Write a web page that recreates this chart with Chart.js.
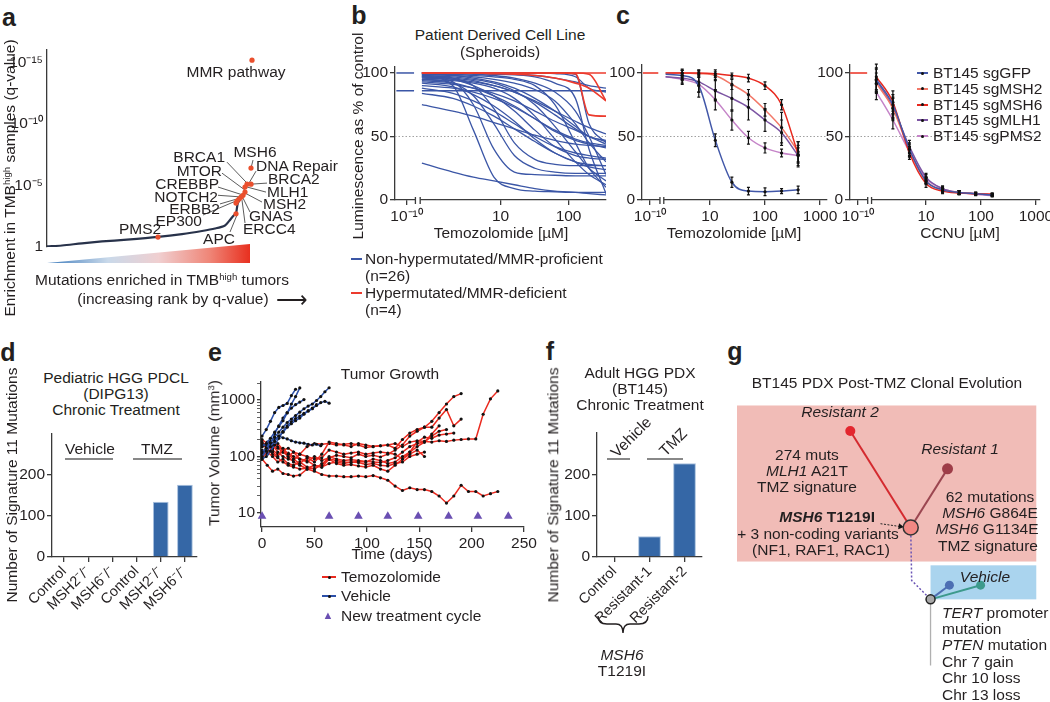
<!DOCTYPE html>
<html>
<head>
<meta charset="utf-8">
<script src="https://cdn.jsdelivr.net/npm/chart.js@4.4.1/dist/chart.umd.min.js"></script>
<style>
  body { margin: 0; background: #fff; }
  #fig { position: relative; width: 1050px; height: 702px; overflow: hidden; font-family: "Liberation Sans", Arial, sans-serif; color: #231f20; }
  #fig canvas { position: absolute; }
  .t { position: absolute; white-space: nowrap; font-size: 15.5px; line-height: 1; }
  .c { transform: translate(-50%, -50%); }
  .l { transform: translate(0, -50%); }
  .r { transform: translate(-100%, -50%); }
  .v { transform: translate(-50%, -50%) rotate(-90deg); }
  .d45 { transform: translate(-50%, -50%) rotate(-45deg); }
  .p { font-weight: bold; font-size: 25px; }
  sup { font-size: 0.62em; vertical-align: 0.5em; line-height: 0; }
  .hl { position: absolute; height: 0; border-top: 2px solid #888; }
</style>
</head>
<body>
<div id="fig"></div>
<script>
// ---- panel a : ranked enrichment
const aRank = [0, 15, 35, 55, 80, 111, 135, 155, 168, 178, 182, 186, 189, 190, 191, 194];
const aScore = [0.05, 0.12, 0.3, 0.45, 0.6, 0.82, 1.05, 1.3, 1.5, 1.75, 2.1, 2.5, 2.75, 3.2, 3.6, 4.0];
const aHitRank = [205, 204, 200, 204, 198, 198, 196, 194, 192, 190, 189, 189, 111];
const aHitScore = [15.17, 6.41, 5.1, 5.1, 4.87, 4.46, 4.2, 4.05, 3.9, 3.73, 3.57, 2.7, 0.81];
const aTickVals = [0, 5, 10, 15];
const aTickText = ['1', '10⁻⁵', '10⁻¹⁰', '10⁻¹⁵'];
// leader lines: [rank from, score from, rank to, score to]
const aLeaders = [
  [180, 6.89, 200, 5.19], [175, 6.0, 198, 4.62], [171, 4.87, 196, 4.22], [171, 4.2, 195, 4.06],
  [173, 3.5, 193, 3.97], [156, 2.6, 191, 3.81], [206, 7.06, 204, 6.41], [209, 6.16, 202, 5.19],
  [220, 5.19, 205, 5.11], [219, 4.46, 200, 4.87], [215, 3.65, 198, 4.38], [203, 2.84, 196, 3.97],
  [198, 1.95, 195, 3.81], [183, 1.22, 190, 2.6]
];

// ---- panel b : spheroid dose response (uM)
const bDoses = [0.7, 2, 4, 8, 16, 32, 63, 126, 200, 355];
const bBlue = [
  [29, 22, 18, 15, 12, 9, 7, 6, 5, 4],
  [98, 90, 55, 18, 9, 7, 6.5, 6, 6, 6],
  [97, 93, 75, 40, 22, 20, 19.5, 19, 19, 19],
  [95, 92, 82, 60, 35, 25, 22, 21, 21, 21],
  [75, 70, 66, 61, 56, 51, 47, 44, 43, 42],
  [88, 84, 78, 70, 60, 50, 42, 37, 35, 33],
  [90, 88, 85, 80, 73, 64, 55, 48, 45, 43],
  [93, 91, 88, 84, 78, 70, 62, 55, 50, 46],
  [96, 95, 93, 90, 85, 77, 67, 56, 50, 44],
  [99, 98, 97, 95, 92, 87, 78, 60, 45, 30],
  [99, 99, 98, 97, 95, 90, 75, 45, 25, 10],
  [100, 99.5, 99, 98, 96, 92, 85, 70, 50, 20],
  [100, 100, 99.5, 99, 98.5, 97, 92, 80, 40, 5],
  [86, 86, 86, 86, 86, 86, 86, 86, 86, 86],
  [100, 100, 100, 100, 100, 100, 100, 99, 60, 45],
  [100, 100, 100, 100, 100, 100, 99.5, 97, 88, 85],
  [97, 95, 90, 82, 70, 55, 42, 35, 33, 32],
  [92, 89, 83, 74, 62, 48, 37, 30, 28, 27],
  [84, 80, 74, 66, 56, 46, 37, 30, 26, 24],
  [98, 97, 95, 92, 86, 75, 58, 38, 25, 15],
  [95, 94, 92, 88, 80, 66, 48, 30, 20, 12],
  [99, 98, 96, 93, 88, 80, 70, 58, 50, 47],
  [97, 96, 94, 90, 85, 78, 70, 62, 57, 52],
  [94, 92, 88, 82, 74, 64, 54, 47, 44, 41],
  [98, 96, 90, 72, 45, 32, 28, 27, 27, 27],
  [100, 100, 100, 99.5, 99, 98, 96, 93, 90, 88]
];
const bRed = [
  [100, 100, 100, 100, 100, 100, 100, 100, 100, 100],
  [100, 100, 100, 100, 100, 100, 100, 99.5, 67, 66],
  [100, 100, 100, 99.5, 99, 98, 96, 92, 88, 78],
  [100, 100, 100, 100, 100, 100, 100, 100, 99, 78]
];
const bCtrlBlue = [100, 86];

// ---- panel c : BT145 knockouts
const cNames = ['BT145 sgGFP', 'BT145 sgMSH2', 'BT145 sgMSH6', 'BT145 sgMLH1', 'BT145 sgPMS2'];
const cColors = ['#4157a8', '#f27868', '#e8281e', '#7c55a3', '#c584c8'];
const cTmzDoses = [1.56, 3.125, 6.25, 12.5, 25, 50, 100, 200, 400];
const cTmzMean = [
  [99, 98, 90, 47, 14, 7, 6.5, 7, 8],
  [100, 100, 99.5, 98, 91, 83, 71, 57, 38],
  [100, 100, 100, 99.5, 98, 96, 90, 75, 36],
  [97, 96, 93, 86, 80, 73, 63, 53, 35],
  [97, 95, 91, 79, 63, 49, 41, 37, 35]
];
const cTmzErr = [
  [null, 4, 9, 5, 4, 3, 3, 2, 3],
  [null, 3, 3, 3, 4, 4, 5, 12, 8],
  [null, 2, 2, 3, 2, 3, 3, 4, 10],
  [null, 4, 8, 8, 10, 10, 9, 10, 8],
  [null, 4, 6, 8, 8, 5, 4, 3, 6]
];
const cCcnuDoses = [1.25, 2.5, 5, 10, 20, 40, 80, 160];
const cCcnuMean = [
  [95, 75, 40, 15, 8, 6, 5, 4],
  [92, 72, 39, 15, 8, 6, 5, 4.5],
  [97, 77, 37, 13, 7, 5.5, 5, 4.5],
  [94, 73, 42, 18, 9, 6, 5, 4],
  [85, 63, 38, 17, 9, 6, 4.5, 3.5]
];
const cCcnuErr = [
  [9, 8, 5, 3, 2, 1.5, 1, 1],
  [8, 8, 5, 2, 2, 1.5, 1, 1],
  [10, 9, 5, 3, 2, 1.5, 1, 1],
  [9, 8, 5, 3, 2, 1.5, 1, 1],
  [6, 7, 4, 3, 2, 1.5, 1, 1]
];

// ---- panel d : DIPG13 signature 11
const dLabels = ['Control', 'MSH2⁻/⁻', 'MSH6⁻/⁻', 'Control', 'MSH2⁻/⁻', 'MSH6⁻/⁻'];
const dCounts = [0, 0, 0, 0, 135, 176];

// ---- panel e : tumor growth (days, mm3)
const vehDays = [0, 4, 8, 12, 16, 20, 24, 28, 32, 36, 40, 44, 48, 52, 56, 60, 64];
const vehSeries = [
  [230, 300, 420, 600, 740, 800, 870, 1200, 1550, null, null, null, null, null, null, null, null],
  [150, 170, 210, 270, 340, 430, 590, 850, 1150, 1640, null, null, null, null, null, null, null],
  [120, 140, 175, 220, 270, 330, 400, 460, 530, 610, 700, 780, 850, 980, 1150, 1400, 1650],
  [100, 125, 150, 185, 230, 270, 330, 380, 430, 480, 560, 640, 720, 800, 900, 950, 880],
  [170, 150, 185, 200, 230, 215, 205, 190, 180, 175, 172, 165, 160, 165, 155, null, null],
  [110, 135, 165, 250, 350, 480, 600, 720, 830, 920, 1020, null, null, null, null, null, null],
  [90, 100, 125, 160, 210, 280, 350, 410, 470, 520, 580, 640, 700, 830, null, null, null]
];
const tmzDays = [0, 5, 10, 15, 20, 25, 30, 36, 43, 50, 57, 64, 71, 78, 85, 92, 99, 106, 113, 120, 127, 134, 141, 148, 155, 162, 169, 176, 183, 190, 197, 204, 211, 218, 225];
const tmzSeries = [
  [150, 180, 120, 100, 140, 110, 90, 75, 95, 80, 110, 180, 170, 160, 150, 170, 160, 150, 155, 160, 140, 200, 260, 300, 330, 420, 600, 850, 1150, 1300, null, null, null, null, null],
  [110, 130, 160, 120, 100, 90, 85, 110, 150, 170, 165, 170, 160, 165, 170, 160, 145, 150, 155, 160, 170, 150, 180, 190, 185, 180, 190, 185, 195, 200, 205, 205, 560, 1050, 1450],
  [130, 110, 140, 170, 130, 100, 120, 90, 80, 100, 85, 95, 105, 100, 95, 110, 100, 105, 98, 110, 130, 160, 230, 280, 330, 330, 480, 680, 350, 460, null, null, null, null, null],
  [95, 120, 100, 80, 90, 75, 70, 80, 65, 60, 75, 90, 85, 80, 78, 82, 80, 90, 85, 75, 80, 100, 120, 180, 220, 210, 240, 250, 260, null, null, null, null, null, null],
  [180, 150, 130, 110, 120, 100, 80, 70, 60, 62, 70, 100, 90, 85, 88, 85, 82, 80, 78, 85, 95, 120, 150, 170, 180, 230, 280, 300, null, null, null, null, null, null, null],
  [200, 170, 150, 140, 120, 115, 100, 90, 85, 70, 65, 75, 80, 75, 80, 78, 72, 75, 70, 68, 75, 80, 100, 110, 120, null, null, null, null, null, null, null, null, null, null],
  [90, 70, 55, 60, 50, 48, 45, 47, 60, 55, 48, 45, 45, 44, 44, 45, 44, 46, 42, 38, 30, 25, 28, 26, 26, 24, 20, 15, 20, 31, 24, 24, 20, 22, 24],
  [160, 140, 170, 150, 130, 140, 120, 110, 100, 90, 95, 130, 120, 110, 115, 120, 110, 115, 120, 115, 110, 90, 120, 150, 180, 250, 350, null, null, null, null, null, null, null, null],
  [120, 140, 110, 95, 80, 70, 65, 60, 62, 70, 65, 90, 75, 70, 72, 68, 65, 70, 60, 55, 70, 90, 110, 130, 100, null, null, null, null, null, null, null, null, null, null]
];
const cycleDays = [0, 64, 92, 120, 149, 178, 206, 235];
const cycleLevel = 8.8;

// ---- panel f : BT145 PDX signature 11
const fLabels = ['Control', 'Resistant-1', 'Resistant-2'];
const fCounts = [0, 50, 227];

// ---- panel g : clonal tree (layout units)
const gNodeX = [184, 120, 223, 205, 225, 258];
const gNodeY = [157, 55, 95, 233, 218, 218];
const gNodeColor = ['#f28883', '#e3262e', '#9e3d48', '#a9a9a9', '#4d6fb3', '#3d9a8c'];
const gNodeSize = [7.5, 5, 5.5, 4.5, 4.5, 4.5];

const fig = document.getElementById('fig');
Chart.defaults.font.family = '"Liberation Sans", Arial, sans-serif';
Chart.defaults.color = '#231f20';
const TICK_SIZE = 15.5;

function txt(x, y, html, cls, style) {
  const d = document.createElement('div');
  d.className = 't ' + (cls || 'c');
  d.style.left = x + 'px';
  d.style.top = y + 'px';
  if (style) d.style.cssText += style;
  d.innerHTML = html;
  fig.appendChild(d);
  return d;
}
function hline(x0, x1, y, color) {
  const d = document.createElement('div');
  d.className = 'hl';
  d.style.left = x0 + 'px'; d.style.top = y + 'px'; d.style.width = (x1 - x0) + 'px';
  if (color) d.style.borderTopColor = color;
  fig.appendChild(d);
}
function legLine(x, y, w, color, dot) {
  const d = document.createElement('div');
  d.style.cssText = `position:absolute;left:${x}px;top:${y - 1}px;width:${w}px;height:2px;background:${color}`;
  fig.appendChild(d);
  if (dot) {
    const p = document.createElement('div');
    p.style.cssText = `position:absolute;left:${x + w / 2 - 1.5}px;top:${y - 1.5}px;width:3px;height:3px;border-radius:2px;background:#111`;
    fig.appendChild(p);
  }
}

// error bars drawn through the chart scales
const errorBars = {
  id: 'errorBars',
  afterDatasetsDraw(chart) {
    const ctx = chart.ctx, xs = chart.scales.x, ys = chart.scales.y;
    chart.data.datasets.forEach(ds => {
      if (!ds.errs) return;
      ctx.save();
      ctx.strokeStyle = '#111';
      ctx.lineWidth = 1.2;
      ds.data.forEach((p, j) => {
        const e = ds.errs[j];
        if (e == null) return;
        const px = xs.getPixelForValue(p.x);
        const y1 = ys.getPixelForValue(p.y - e), y2 = ys.getPixelForValue(p.y + e);
        ctx.beginPath();
        ctx.moveTo(px, y1); ctx.lineTo(px, y2);
        ctx.moveTo(px - 1.5, y1); ctx.lineTo(px + 1.5, y1);
        ctx.moveTo(px - 1.5, y2); ctx.lineTo(px + 1.5, y2);
        ctx.stroke();
      });
      ctx.restore();
    });
  }
};
// broken x axis
const axisBreak = {
  id: 'axisBreak',
  afterDraw(chart, args, opts) {
    if (opts.from == null) return;
    const xs = chart.scales.x, ctx = chart.ctx;
    const a = xs.getPixelForValue(opts.from), b = xs.getPixelForValue(opts.to);
    const y = chart.chartArea.bottom;
    ctx.save();
    ctx.fillStyle = '#fff';
    ctx.fillRect(a, y - 2, b - a, 5);
    ctx.strokeStyle = '#3a3a3a';
    ctx.lineWidth = 1.3;
    ctx.beginPath();
    ctx.moveTo(a, y - 3); ctx.lineTo(a, y + 4);
    ctx.moveTo(b, y - 3); ctx.lineTo(b, y + 4);
    ctx.stroke();
    ctx.restore();
  }
};
// shaded boxes behind the tree
const boxes = {
  id: 'boxes',
  beforeDatasetsDraw(chart, args, opts) {
    if (!opts.list) return;
    const xs = chart.scales.x, ys = chart.scales.y, ctx = chart.ctx;
    opts.list.forEach(b => {
      const x0 = xs.getPixelForValue(b[0]), y0 = ys.getPixelForValue(b[1]);
      const x1 = xs.getPixelForValue(b[2]), y1 = ys.getPixelForValue(b[3]);
      ctx.fillStyle = b[4];
      ctx.fillRect(Math.min(x0, x1), Math.min(y0, y1), Math.abs(x1 - x0), Math.abs(y1 - y0));
    });
  }
};
Chart.register(errorBars, axisBreak, boxes);

function ax(type, min, max, tickVals, label, extra) {
  const s = {
    type, min, max,
    border: { color: '#3a3a3a', width: 1.3 },
    grid: { drawOnChartArea: false, drawTicks: true, tickLength: 5, color: '#3a3a3a', lineWidth: 1.3 },
    ticks: { padding: 2, color: '#231f20', font: { size: TICK_SIZE }, autoSkip: false, maxRotation: 0, minRotation: 0 }
  };
  if (tickVals) {
    s.afterBuildTicks = sc => { sc.ticks = tickVals.map(v => ({ value: v })); };
    s.ticks.callback = v => (label ? label(v) : String(v));
  }
  return Object.assign(s, extra || {});
}

// canvas box L,T,W,H and plot area [x0,y0,x1,y1] in page pixels
function makeChart(L, T, W, H, area, cfg) {
  const cv = document.createElement('canvas');
  cv.width = W; cv.height = H;
  cv.style.left = L + 'px'; cv.style.top = T + 'px';
  fig.appendChild(cv);
  const [x0, y0, x1, y1] = area;
  const o = cfg.options;
  o.responsive = false;
  o.animation = false;
  o.plugins = Object.assign({ legend: { display: false }, tooltip: { enabled: false } }, o.plugins || {});
  const xs = o.scales.x, ys = o.scales.y;
  o.layout = { padding: { top: y0 - T, right: L + W - x1, left: ys.display === false ? x0 - L : 0, bottom: xs.display === false ? T + H - y1 : 0 } };
  if (ys.display !== false) ys.afterFit = s => { s.width = x0 - L; s.paddingTop = s.paddingBottom = s.paddingLeft = s.paddingRight = 0; };
  if (xs.display !== false) xs.afterFit = s => { s.height = T + H - y1; s.paddingTop = s.paddingBottom = s.paddingLeft = s.paddingRight = 0; };
  return new Chart(cv, cfg);
}
function seg(x0, y0, x1, y1, color, width, dash) {
  return { data: [{ x: x0, y: y0 }, { x: x1, y: y1 }], showLine: true, borderColor: color, borderWidth: width || 1, borderDash: dash || [], pointRadius: 0 };
}
const lg = Math.log10;

// ================= panel a =================
{
  const ds = [];
  ds.push({ data: aHitRank.map((r, i) => ({ x: r, y: aHitScore[i] })), pointRadius: 2.6, pointBackgroundColor: '#ea4f2d', pointBorderWidth: 0, showLine: false, order: 0 });
  ds.push({ data: aRank.map((r, i) => ({ x: r, y: aScore[i] })), showLine: true, borderColor: '#28324a', borderWidth: 2.2, pointRadius: 0, tension: 0.3, order: 2 });
  aLeaders.forEach(l => { const s = seg(l[0], l[1], l[2], l[3], '#4a4a4a', 0.9); s.order = 1; ds.push(s); });
  const ya = ax('linear', 0, 16, aTickVals, v => aTickText[aTickVals.indexOf(v)], {});
  ya.grid.drawTicks = false;
  ya.ticks.padding = 4;
  makeChart(0, 40, 330, 215, [47, 50, 320, 247], {
    type: 'scatter',
    data: { datasets: ds },
    options: {
      scales: {
        x: { type: 'linear', min: 0, max: 273, display: false },
        y: ya
      }
    }
  });
}

// ================= panel b =================
{
  const ds = [];
  ds.push(Object.assign(seg(-0.55, 50, 2.55, 50, '#a0a0a0', 1, [1.5, 2]), { order: 5 }));
  bBlue.forEach(c => ds.push({ data: bDoses.map((d, i) => ({ x: lg(d), y: c[i] })), showLine: true, borderColor: '#3b56a6', borderWidth: 1.3, pointRadius: 0, cubicInterpolationMode: 'monotone', order: 3 }));
  bRed.forEach(c => ds.push({ data: bDoses.map((d, i) => ({ x: lg(d), y: c[i] })), showLine: true, borderColor: '#ec3b2e', borderWidth: 1.6, pointRadius: 0, cubicInterpolationMode: 'monotone', order: 1 }));
  bCtrlBlue.forEach(v => ds.push(Object.assign(seg(-0.53, v, -0.27, v, '#3b56a6', 1.5), { order: 2 })));
  makeChart(350, 60, 270, 175, [395, 67, 606, 200], {
    type: 'scatter',
    data: { datasets: ds },
    options: {
      plugins: { axisBreak: { from: -0.25, to: -0.18 } },
      scales: {
        x: ax('linear', -0.55, 2.55, [-0.38, 1, 2], v => (v < 0 ? '10⁻¹⁰' : String(Math.round(Math.pow(10, v))))),
        y: ax('linear', 0, 104.7, [0, 50, 100])
      }
    }
  });
}

// ================= panel c =================
function cPanel(L, area, doses, means, errs, xmin, xmax, ctrlPos, brk, ctrlSeg) {
  const ds = [];
  ds.push(Object.assign(seg(xmin, 50, xmax, 50, '#a0a0a0', 1, [1.5, 2]), { order: 9 }));
  ds.push(Object.assign(seg(ctrlSeg[0], 100, ctrlSeg[1], 100, '#ec3b2e', 1.6), { order: 8 }));
  const ord = [2, 4, 3, 5, 6];
  means.forEach((m, g) => ds.push({
    data: doses.map((d, i) => ({ x: lg(d), y: m[i] })),
    errs: errs[g],
    showLine: true, borderColor: cColors[g], borderWidth: 1.5, cubicInterpolationMode: 'monotone',
    pointRadius: errs[g].map(e => (e == null ? 0 : 1.6)), pointBackgroundColor: '#111', pointBorderWidth: 0, order: ord[g]
  }));
  makeChart(L, 55, area[2] - L + 12, 175, area, {
    type: 'scatter',
    data: { datasets: ds },
    options: {
      plugins: { axisBreak: { from: brk[0], to: brk[1] } },
      scales: {
        x: ax('linear', xmin, xmax, [ctrlPos, 1, 2, 3], v => (v < 0.5 ? '10⁻¹⁰' : String(Math.round(Math.pow(10, v))))),
        y: ax('linear', 0, 106.3, [0, 50, 100])
      }
    }
  });
}
cPanel(600, [642, 65, 827, 200], cTmzDoses, cTmzMean, cTmzErr, -0.236, 3.127, -0.09, [0.09, 0.16], [-0.22, 0.06]);
cPanel(808, [850, 65, 1040, 200], cCcnuDoses, cCcnuMean, cCcnuErr, -0.382, 3.073, -0.236, [-0.06, 0.01], [-0.38, -0.07]);

// ================= panel d =================
function barPanel(L, T, W, H, area, labels, counts) {
  makeChart(L, T, W, H, area, {
    type: 'bar',
    data: { labels, datasets: [{ data: counts, backgroundColor: '#3567a6', borderColor: '#a8c0de', borderWidth: c => (c.raw ? 1 : 0), barPercentage: 0.65, categoryPercentage: 1 }] },
    options: {
      scales: {
        x: ax('category', undefined, undefined, null, null, {
          grid: { drawOnChartArea: false, drawTicks: true, tickLength: 5, color: '#3a3a3a', lineWidth: 1.3, offset: false },
          ticks: { padding: 1, color: '#231f20', font: { size: 14.5 }, autoSkip: false, maxRotation: 45, minRotation: 45 }
        }),
        y: ax('linear', 0, 300, [0, 100, 200])
      }
    }
  });
}
barPanel(10, 420, 200, 230, [52, 434, 197, 557], dLabels, dCounts);

// ================= panel e =================
{
  const ds = [];
  vehSeries.forEach(s => ds.push({
    data: vehDays.map((d, i) => ({ x: d, y: s[i] })).filter(p => p.y != null),
    showLine: true, borderColor: '#2b4fa8', borderWidth: 1.5, pointRadius: 1.6, pointBackgroundColor: '#111', pointBorderWidth: 0, order: 1
  }));
  tmzSeries.forEach(s => ds.push({
    data: tmzDays.map((d, i) => ({ x: d, y: s[i] })).filter(p => p.y != null),
    showLine: true, borderColor: '#ea2a1f', borderWidth: 1.5, pointRadius: 1.6, pointBackgroundColor: '#111', pointBorderWidth: 0, order: 2
  }));
  ds.push({ data: cycleDays.map(d => ({ x: d, y: cycleLevel })), pointStyle: 'triangle', pointRadius: 5, backgroundColor: '#6a4fb2', borderWidth: 0, showLine: false, clip: false, order: 0 });
  const yt = [];
  [10, 100, 1000].forEach(p => { for (let k = 1; k < 10; k++) if (p * k <= 2000) yt.push(p * k); });
  makeChart(215, 370, 330, 180, [261, 382, 524, 527], {
    type: 'scatter',
    data: { datasets: ds },
    options: {
      scales: {
        x: ax('linear', -1, 250, [0, 50, 100, 150, 200, 250]),
        y: ax('logarithmic', 5.65, 2085, yt, v => ([10, 100, 1000].includes(v) ? String(v) : ''), {
          grid: { drawOnChartArea: false, drawTicks: true, tickLength: 4, color: '#3a3a3a', lineWidth: c => ([10, 100, 1000].includes(c.tick && c.tick.value) ? 1.3 : 0.8) }
        })
      }
    }
  });
}

// ================= panel f =================
barPanel(555, 420, 160, 230, [597, 433, 702, 557], fLabels, fCounts);

// ================= panel g =================
{
  const ds = [];
  const n = i => ({ x: gNodeX[i], y: gNodeY[i] });
  ds.push({ data: gNodeX.map((x, i) => n(i)), showLine: false, pointRadius: gNodeSize, pointBackgroundColor: gNodeColor, pointBorderColor: ['#333', '#e3262e', '#9e3d48', '#222', '#4d6fb3', '#3d9a8c'], pointBorderWidth: [1.5, 0, 0, 1.5, 0, 0], order: 0 });
  ds.push(Object.assign(seg(gNodeX[0], gNodeY[0], gNodeX[1], gNodeY[1], '#d42a2f', 2), { order: 2 }));
  ds.push(Object.assign(seg(gNodeX[0], gNodeY[0], gNodeX[2], gNodeY[2], '#9b4650', 2), { order: 2 }));
  ds.push(Object.assign(seg(gNodeX[3], gNodeY[3], gNodeX[4], gNodeY[4], '#4d6fb3', 2), { order: 2 }));
  ds.push(Object.assign(seg(gNodeX[3], gNodeY[3], gNodeX[5], gNodeY[5], '#3d9a8c', 2), { order: 2 }));
  ds.push(Object.assign(seg(gNodeX[3], gNodeY[3], gNodeX[3], 303, '#b0b0b0', 1.3), { order: 3 }));
  ds.push({ data: [n(0), { x: 185, y: 213 }, n(3)], showLine: true, borderColor: '#6b55b5', borderWidth: 1.5, borderDash: [2, 2], pointRadius: 0, order: 3 });
  ds.push({ data: [{ x: 152, y: 153 }, { x: 173, y: 156 }], showLine: true, borderColor: '#222', borderWidth: 1, borderDash: [2, 1.5], pointRadius: [0, 3.5], pointStyle: 'triangle', rotation: 98, pointBackgroundColor: '#111', pointBorderWidth: 0, order: 1 });
  makeChart(728, 370, 322, 332, [728, 370, 1050, 702], {
    type: 'scatter',
    data: { datasets: ds },
    options: {
      plugins: { boxes: { list: [[0, 28, 317, 193, '#f1bcb7'], [205, 197, 317, 233, '#aad4ee']] } },
      scales: {
        x: { type: 'linear', min: 0, max: 322, display: false },
        y: { type: 'linear', min: 0, max: 332, reverse: true, display: false }
      }
    }
  });
}

// ================= text =================
txt(9, 17, 'a', 'c p'); txt(359, 15, 'b', 'c p'); txt(623, 15, 'c', 'c p');
txt(8, 352, 'd', 'c p'); txt(215, 352, 'e', 'c p'); txt(550, 351, 'f', 'c p'); txt(735, 351, 'g', 'c p');

// a
txt(10, 178, 'Enrichment in TMB<sup>high</sup> samples (q-value)', 'v');
txt(236, 72, 'MMR pathway');
[['MSH6', 255, 152, 'c'], ['DNA Repair', 256, 166, 'l'], ['BRCA2', 268, 179, 'l'], ['MLH1', 267, 192, 'l'],
 ['MSH2', 263, 204, 'l'], ['GNAS', 249, 216, 'l'], ['ERCC4', 243, 229, 'l'],
 ['BRCA1', 225, 157, 'r'], ['MTOR', 222, 171, 'r'], ['CREBBP', 219, 184, 'r'], ['NOTCH2', 218, 197, 'r'],
 ['ERBB2', 220, 209, 'r'], ['EP300', 202, 221, 'r'], ['PMS2', 140, 229, 'c'], ['APC', 219, 239, 'c']
].forEach(l => txt(l[1], l[2], l[0], l[3]));
{
  const tri = document.createElement('div');
  tri.style.cssText = 'position:absolute;left:47px;top:244px;width:203px;height:19px;background:linear-gradient(to right,#3f7cbc 0%,#c9d9ea 30%,#f0cfd0 55%,#ef8678 80%,#e8301f 100%);clip-path:polygon(0 100%,100% 0,100% 100%)';
  fig.appendChild(tri);
}
txt(162, 280, 'Mutations enriched in TMB<sup>high</sup> tumors');
txt(173, 299, '(increasing rank by q-value)');
txt(276, 300, '⟶', 'l', 'font-size:22px;');

// b
txt(500, 35, 'Patient Derived Cell Line'); txt(500, 52, '(Spheroids)');
txt(358, 136, 'Luminescence as % of control', 'v');
txt(501, 233, 'Temozolomide [µM]');
legLine(351, 259, 11, '#3b56a6'); legLine(351, 293, 11, '#ec3b2e');
txt(365, 259, 'Non-hypermutated/MMR-proficient', 'l'); txt(365, 276, '(n=26)', 'l');
txt(365, 293, 'Hypermutated/MMR-deficient', 'l'); txt(365, 310, '(n=4)', 'l');

// c
txt(734, 233, 'Temozolomide [µM]'); txt(960, 233, 'CCNU [µM]');
cNames.forEach((nm, i) => { legLine(917, 73 + i * 15.8, 11, cColors[i], true); txt(933, 73 + i * 15.8, nm, 'l'); });

// d
txt(116, 378, 'Pediatric HGG PDCL'); txt(116, 394, '(DIPG13)'); txt(116, 410, 'Chronic Treatment');
txt(12, 485, 'Number of Signature 11 Mutations', 'v');
txt(90, 449, 'Vehicle'); txt(157, 449, 'TMZ');
hline(65, 113, 458); hline(133, 182, 458);

// e
txt(390, 374, 'Tumor Growth');
txt(214, 453, 'Tumor Volume (mm<sup>3</sup>)', 'v');
txt(392, 554, 'Time (days)');
legLine(322, 577, 14, '#ea2a1f', true); txt(341, 577, 'Temozolomide', 'l');
legLine(322, 596, 14, '#2b4fa8', true); txt(341, 596, 'Vehicle', 'l');
txt(328, 615, '▲', 'c', 'color:#6a4fb2;font-size:11px;'); txt(341, 616, 'New treatment cycle', 'l');

// f
txt(640, 373, 'Adult HGG PDX'); txt(640, 389, '(BT145)'); txt(640, 405, 'Chronic Treatment');
txt(553, 485, 'Number of Signature 11 Mutations', 'v');
txt(631, 437, 'Vehicle', 'd45'); txt(673, 442, 'TMZ', 'd45');
hline(607, 630, 458); hline(647, 683, 458);
{
  const s = document.createElementNS('http://www.w3.org/2000/svg', 'svg');
  s.setAttribute('width', '54'); s.setAttribute('height', '22');
  s.style.cssText = 'position:absolute;left:596px;top:614px';
  s.innerHTML = '<path d="M2,2 Q2,10 11,10 L20,10 Q27,10 27,19 Q27,10 34,10 L43,10 Q52,10 52,2" fill="none" stroke="#231f20" stroke-width="1.4"/>';
  fig.appendChild(s);
}
txt(622, 655, '<i>MSH6</i>'); txt(622, 671, 'T1219I');

// g
txt(887, 383, 'BT145 PDX Post-TMZ Clonal Evolution');
txt(840, 412, '<i>Resistant 2</i>'); txt(960, 449, '<i>Resistant 1</i>');
txt(807, 455, '274 muts'); txt(807, 471, '<i>MLH1</i> A21T'); txt(807, 487, 'TMZ signature');
txt(875, 517, '<b><i>MSH6</i> T1219I</b>', 'r');
txt(818, 534, '+ 3 non-coding variants'); txt(821, 550, '(NF1, RAF1, RAC1)');
txt(990, 497, '62 mutations'); txt(990, 513, '<i>MSH6</i> G864E'); txt(987, 529, '<i>MSH6</i> G1134E'); txt(988, 546, 'TMZ signature');
txt(985, 577, '<i>Vehicle</i>');
[['<i>TERT</i> promoter', 613], ['mutation', 629], ['<i>PTEN</i> mutation', 645], ['Chr 7 gain', 662], ['Chr 10 loss', 678], ['Chr 13 loss', 695]]
  .forEach(l => txt(942, l[1], l[0], 'l'));
</script>
</body>
</html>
